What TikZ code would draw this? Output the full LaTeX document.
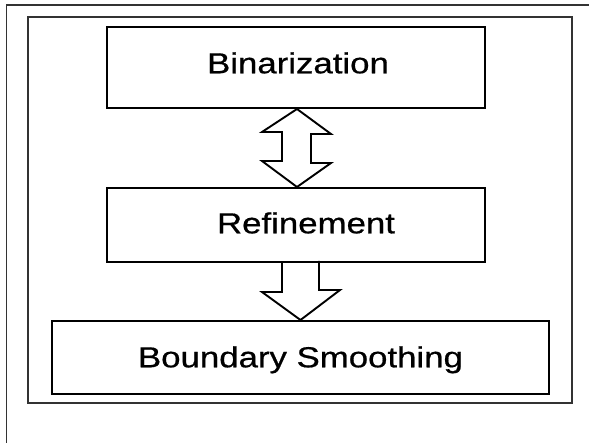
\documentclass[tikz,border=0pt]{standalone}
\usepackage{fontspec}
\setmainfont{Liberation Sans}
\newfontfamily\stagefont[FakeBold=0.6]{Liberation Sans}
\usetikzlibrary{calc}
\begin{document}
\begin{tikzpicture}[x=1pt,y=-1pt,
  stagebox/.style={draw=black,line width=2pt,fill=none,inner sep=0pt},
  stagetext/.style={anchor=base,inner sep=0pt,font=\stagefont\fontsize{29}{34}\selectfont},
  arrowshape/.style={draw=black,line width=1.9pt,fill=none,line join=miter},
  framel/.style={draw=black!80,line width=1.5pt}]
\useasboundingbox (0,0) rectangle (589,443);
% outer frame (only top and left visible)
\coordinate (otl) at (6.7,5);
\coordinate (otr) at (589,5);
\coordinate (obl) at (6.7,443);
\draw[framel] (otr) -- (otl) -- (obl);
% inner frame
\node[framel,draw,rectangle,minimum width=544pt,minimum height=386pt,inner sep=0pt] (frame) at (300,210) {};
% stage boxes
\node[stagebox,minimum width=378pt,minimum height=81pt] (bin) at (296,67.5) {};
\node[stagebox,minimum width=378pt,minimum height=74pt] (ref) at (296,225) {};
\node[stagebox,minimum width=497pt,minimum height=73pt] (bnd) at (300.5,357.5) {};
% labels
\node[stagetext] (binT) at (298,73.3) {\scalebox{1.2}[1]{Binarization}};
\node[stagetext] (refT) at (306,233.3) {\scalebox{1.2}[1]{Refinement}};
\node[stagetext] (bndT) at (300.5,367.3) {\scalebox{1.2}[1]{Boundary Smoothing}};
% double arrow between Binarization and Refinement
\draw[arrowshape] ($(bin.south)+(1,0)$) -- ++(34,25) -- ++(-20,0) -- ++(0,29) -- ++(20,0)
  -- ($(ref.north)+(1,0)$) -- ++(-35,-26) -- ++(20,0) -- ++(0,-29) -- ++(-20,0) -- cycle;
% single arrow from Refinement to Boundary Smoothing
\draw[arrowshape] ($(ref.south)+(-14,0)$) -- ++(0,29) -- ++(-20,0) -- (bnd.north)
  -- ++(39.5,-30) -- ++(-21,0) -- ++(0,-29);
\end{tikzpicture}
\end{document}
